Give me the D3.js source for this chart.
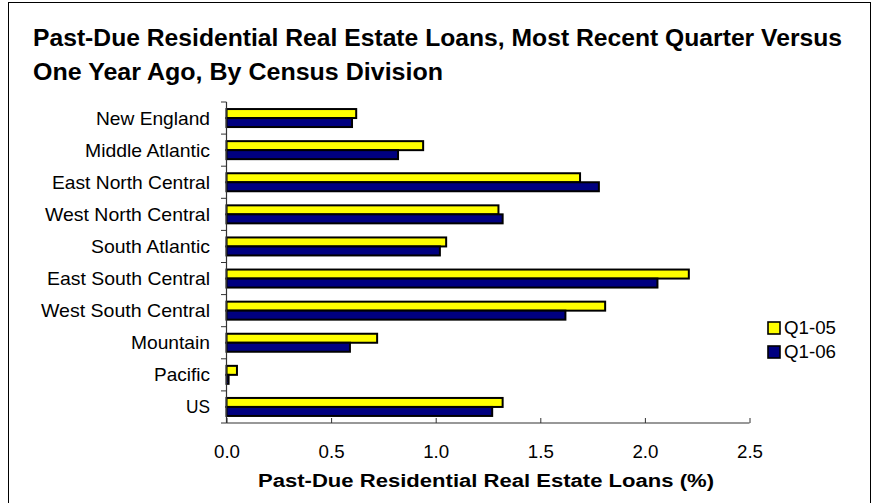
<!DOCTYPE html>
<html>
<head>
<meta charset="utf-8">
<script src="https://cdn.jsdelivr.net/npm/d3@7/dist/d3.min.js"></script>
<style>
  html, body { margin: 0; padding: 0; background: #fff; }
  svg { display: block; }
  svg text { font-family: "Liberation Sans", Arial, Helvetica, sans-serif; }
</style>
</head>
<body>
<svg id="chart" width="874" height="503"></svg>
<script>
// Census divisions, top to bottom
const divisions = [
  "New England", "Middle Atlantic", "East North Central", "West North Central",
  "South Atlantic", "East South Central", "West South Central", "Mountain",
  "Pacific", "US"
];
// Past-due share of residential real estate loans (%)
const q105 = [0.62, 0.94, 1.69, 1.30, 1.05, 2.21, 1.81, 0.72, 0.05, 1.32];
const q106 = [0.60, 0.82, 1.78, 1.32, 1.02, 2.06, 1.62, 0.59, 0.01, 1.27];
const seriesNames = ["Q1-05", "Q1-06"];
const seriesColors = ["#ffff00", "#000080"];
const xTicks = [0, 0.5, 1.0, 1.5, 2.0, 2.5];

const titleLines = [
  "Past-Due Residential Real Estate Loans, Most Recent Quarter Versus",
  "One Year Ago, By Census Division"
];
const xTitle = "Past-Due Residential Real Estate Loans (%)";

// Helvetica-style wide setting: stretch a text element to a given width
function fitWidth(sel, w) {
  sel.attr("textLength", w).attr("lengthAdjust", "spacingAndGlyphs");
}

const svg = d3.select("#chart");

// outer chart frame
svg.append("rect")
  .attr("x", 8.5).attr("y", 2.5).attr("width", 862).attr("height", 510)
  .attr("fill", "#fff").attr("stroke", "#000").attr("stroke-width", 1);

// title
const titleWidths = [809, 410];
const title = svg.append("g").attr("font-weight", "bold").attr("font-size", 23).attr("fill", "#000");
titleLines.forEach((t, i) => {
  title.append("text").attr("x", 33).attr("y", 46 + i * 34).text(t).call(fitWidth, titleWidths[i]);
});

const x = d3.scaleLinear().domain([0, 2.5]).range([226.5, 749.5]);
const y = d3.scaleBand().domain(divisions).range([102, 423]).paddingInner(0).paddingOuter(0);
const barH = 9;

// bars
const rows = divisions.map((d, i) => ({ name: d, vals: [q105[i], q106[i]] }));
const g = svg.append("g");
rows.forEach(r => {
  const cy = y(r.name) + y.bandwidth() / 2;
  r.vals.forEach((v, k) => {
    g.append("rect")
      .attr("x", x(0))
      .attr("y", cy - barH + k * barH)
      .attr("width", Math.max(0, x(v) - x(0)))
      .attr("height", barH)
      .attr("fill", seriesColors[k])
      .attr("stroke", "#000")
      .attr("stroke-width", 2);
  });
});

// x axis (ticks pointing inward)
const xAxis = d3.axisBottom(x).tickValues(xTicks).tickSize(-5).tickFormat(d3.format(".1f")).tickPadding(22);
const xg = svg.append("g").attr("transform", "translate(0,423)").call(xAxis);
xg.attr("font-family", null).attr("font-size", null);
xg.select(".domain").attr("stroke", "#333").attr("stroke-width", 1.2).attr("d", `M${x(0)},0H${x(2.5)}`);
xg.selectAll(".tick line").attr("stroke", "#333");
xg.selectAll("text").attr("font-size", 18).attr("fill", "#000").attr("dy", "0.71em").call(fitWidth, 26);

// y axis (category boundaries ticked outward)
const ya = svg.append("g");
ya.append("line").attr("x1", 226.5).attr("x2", 226.5).attr("y1", 102).attr("y2", 423)
  .attr("stroke", "#333").attr("stroke-width", 1.2);
d3.range(divisions.length + 1).forEach(i => {
  const yy = 102 + i * y.bandwidth();
  ya.append("line").attr("x1", 221).attr("x2", 226.5).attr("y1", yy).attr("y2", yy)
    .attr("stroke", "#333").attr("stroke-width", 1);
});
const catWidths = [114, 125, 158, 165, 119, 163, 169, 79, 56, 24];
ya.selectAll("text.cat").data(divisions).join("text")
  .attr("class", "cat")
  .attr("x", 210)
  .attr("y", d => y(d) + y.bandwidth() / 2)
  .attr("dy", "0.35em")
  .attr("text-anchor", "end")
  .attr("font-size", 18.5)
  .text(d => d)
  .each(function (d, i) { d3.select(this).call(fitWidth, catWidths[i]); });

// x axis title
svg.append("text")
  .attr("x", 486).attr("y", 487)
  .attr("text-anchor", "middle").attr("font-weight", "bold").attr("font-size", 18)
  .text(xTitle).call(fitWidth, 456);

// legend
const lg = svg.append("g");
seriesNames.forEach((s, k) => {
  const ly = 328 + k * 24;
  lg.append("rect").attr("x", 768).attr("y", ly - 6).attr("width", 12).attr("height", 12)
    .attr("fill", seriesColors[k]).attr("stroke", "#000").attr("stroke-width", 1.6);
  lg.append("text").attr("x", 784).attr("y", ly).attr("dy", "0.35em").attr("font-size", 18.5)
    .text(s).call(fitWidth, 52);
});
</script>
</body>
</html>
